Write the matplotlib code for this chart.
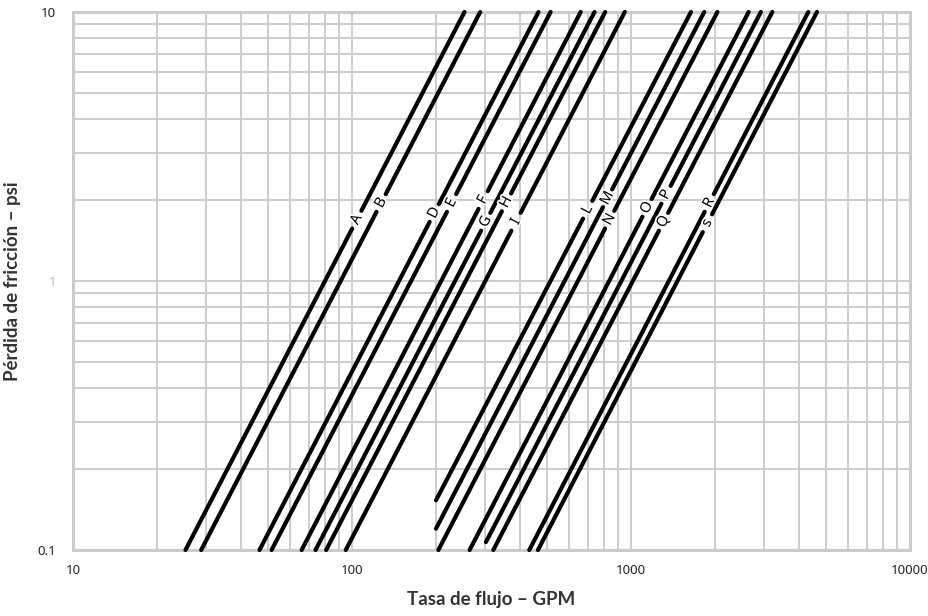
import numpy as np
import matplotlib.pyplot as plt
import matplotlib.patheffects as pe
from matplotlib.ticker import FixedLocator, NullFormatter

plt.rcParams['font.family'] = ['Noto Sans', 'DejaVu Sans']

# Friction loss curves: straight lines on log-log axes, one per pipe size
labels = ['A', 'B', 'D', 'E', 'F', 'G', 'H', 'I',
          'L', 'M', 'N', 'O', 'P', 'Q', 'R', 's']
flow_start = [25.3, 28.8, 46.6, 51.5, 66, 74, 80.8, 95,
              200, 200, 204, 264, 302, 321, 432, 464]
loss_start = [0.1, 0.1, 0.1, 0.1, 0.1, 0.1, 0.1, 0.1,
              0.153, 0.12, 0.1, 0.1, 0.107, 0.1, 0.1, 0.1]
flow_end = [253, 288, 466, 515, 660, 740, 808, 950,
            1640, 1830, 2040, 2640, 2920, 3210, 4320, 4640]
loss_end = [10] * 16
# friction loss (psi) where each letter sits on its curve
label_loss = [1.69, 1.95, 1.79, 1.95, 2.0, 1.66, 1.96, 1.66,
              1.84, 2.03, 1.69, 1.87, 2.09, 1.66, 1.95, 1.64]

x_ticks = [10, 100, 1000, 10000]
x_ticklabels = ['10', '100', '1000', '10000']
y_ticks = [0.1, 1, 10]
y_ticklabels = ['0.1', '1', '10']

grid_col = '#cccccc'

fig = plt.figure(figsize=(9.29, 6.16), dpi=100)
ax = fig.add_axes([73 / 929, 1 - 550 / 616, 837 / 929, 538 / 616])
ax.set_xscale('log')
ax.set_yscale('log')
ax.set_xlim(10, 10000)
ax.set_ylim(0.1, 10)

# grid on every 1..9 step of each decade
xg = [m * 10 ** e for e in range(1, 4) for m in range(1, 10)][1:]
yg = [m * 10.0 ** e for e in range(-1, 1) for m in range(1, 10)][1:]
for v in xg:
    ax.axvline(v, color=grid_col, lw=1.4, zorder=1)
for v in yg:
    ax.axhline(v, color=grid_col, lw=1.4, zorder=1)

for s in ax.spines.values():
    s.set_color(grid_col)
    s.set_linewidth(2.2)
    s.set_zorder(1.5)

fig.canvas.draw()
to_data = ax.transData.inverted()
gap = 10  # half length of the break in each line, pixels

for i, lab in enumerate(labels):
    slope = np.log(loss_end[i] / loss_start[i]) / np.log(flow_end[i] / flow_start[i])
    yl = label_loss[i]
    xl = flow_start[i] * (yl / loss_start[i]) ** (1 / slope)
    p0 = ax.transData.transform((xl, yl))
    p1 = ax.transData.transform((xl * 1.5, yl * 1.5 ** slope))
    d = (p1 - p0) / np.hypot(*(p1 - p0))
    ang = np.degrees(np.arctan2(d[1], d[0]))
    lo = to_data.transform(p0 - gap * d)
    hi = to_data.transform(p0 + gap * d)

    # line split in two around its letter
    ax.plot([flow_start[i], lo[0]], [loss_start[i], lo[1]],
            color='black', lw=3.0, solid_capstyle='round', zorder=3,
            clip_on=False)
    ax.plot([hi[0], flow_end[i]], [hi[1], loss_end[i]],
            color='black', lw=3.0, solid_capstyle='round', zorder=3,
            clip_on=False)
    ax.text(xl, yl, lab, rotation=ang, rotation_mode='anchor',
            ha='center', va='center', fontsize=10.5, color='black', zorder=4,
            path_effects=[pe.withStroke(linewidth=2.5, foreground='white')])

ax.xaxis.set_major_locator(FixedLocator(x_ticks))
ax.set_xticklabels(x_ticklabels)
ax.xaxis.set_minor_formatter(NullFormatter())
ax.yaxis.set_major_locator(FixedLocator(y_ticks))
ax.set_yticklabels(y_ticklabels)
ax.yaxis.set_minor_formatter(NullFormatter())
ax.tick_params(which='both', length=0)
ax.tick_params(axis='x', pad=10, labelsize=9.5, labelcolor='#222222')
ax.tick_params(axis='y', pad=12, labelsize=9.5, labelcolor='#222222')
ax.get_yticklabels()[1].set_color('#bbbbbb')

ax.set_xlabel('Tasa de flujo – GPM', fontsize=13.5, fontweight='bold',
              family=['Lato', 'DejaVu Sans'], color='#333333', labelpad=10)
ax.set_ylabel('Pérdida de fricción – psi', fontsize=13.5, fontweight='bold',
              family=['Lato', 'DejaVu Sans'], color='#333333', labelpad=12)

fig.savefig('out.png', dpi=100)
